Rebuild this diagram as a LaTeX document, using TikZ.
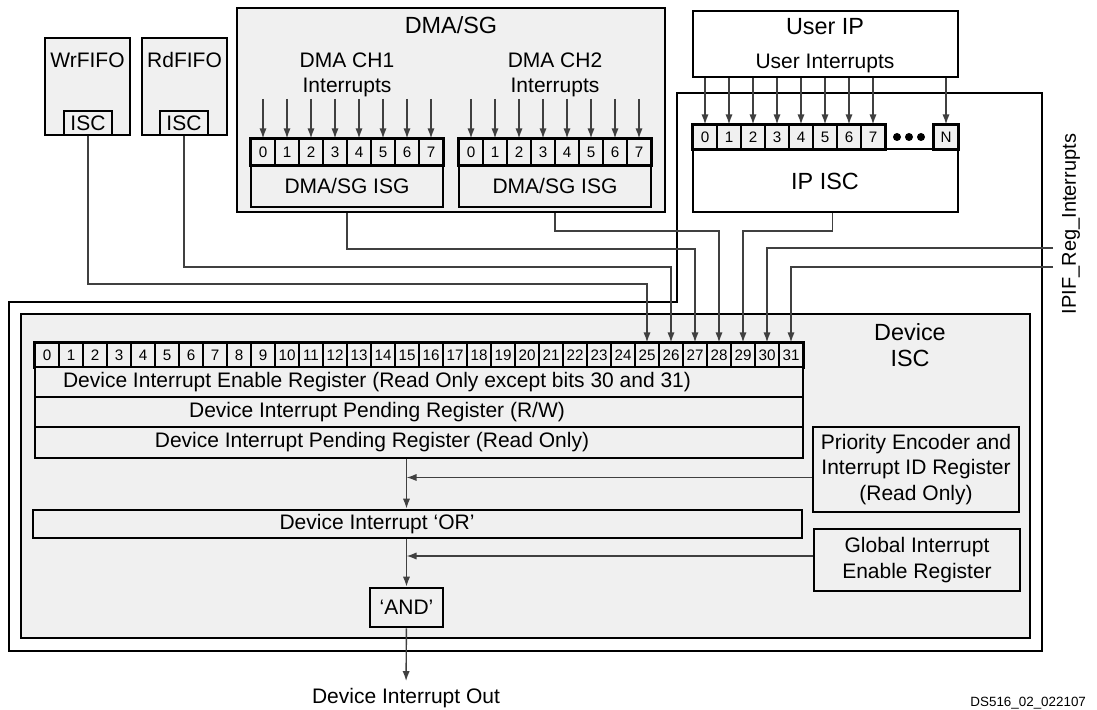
\documentclass[tikz,border=0pt]{standalone}
\usepackage{fontspec}
\setmainfont{Liberation Sans}
\usetikzlibrary{arrows.meta, fit}
\definecolor{boxgrey}{HTML}{F0F0F0}
\tikzset{
    grybox/.style={draw, line width=1.3pt, fill=boxgrey, inner sep=0pt},
    whtbox/.style={draw, line width=1.3pt, fill=white, inner sep=0pt},
    bitcell/.style={draw, line width=0.6pt, fill=boxgrey, inner sep=0pt,
        minimum width=12pt, minimum height=12pt, font=\fontsize{7.6}{9}\selectfont},
    wire/.style={draw=black!75, line width=0.7pt},
    arr/.style={wire, -{Latex[length=5pt,width=3.6pt]}},
    thk/.style={line width=1.3pt},
    title/.style={font=\fontsize{11.7}{13}\selectfont}
}
\newcommand{\drawblk}[7][grybox]{%
    \coordinate (#2-nw) at (#3,#4);
    \coordinate (#2-se) at (#5,#6);
    \node[#1, fit=(#2-nw)(#2-se), label={[align=center]center:#7}] (#2) {};
}

\begin{document}
\begin{tikzpicture}[x=0.5pt, y=-0.5pt, font=\fontsize{10.5}{12.7}\selectfont]
    \useasboundingbox (0,0) rectangle (1097,710);

    \draw[thk] (9,302) -- (677,302) -- (677,93) -- (1042,93) -- (1042,651) -- (9,651) -- cycle;

    % fifos
    \drawblk{wr}{45}{38}{130}{135}{}
    \drawblk{rd}{142}{38}{227}{135}{}
    \node (wrt) at (87.5,60) {WrFIFO};
    \node (rdt) at (184.5,60) {RdFIFO};
    \drawblk{wisc}{64}{111}{112}{135}{ISC}
    \drawblk{risc}{160}{111}{208}{135}{ISC}

    % dma/sg
    \drawblk{dma}{237}{8}{665}{212}{}
    \node[title] (dmat) at (451,25) {DMA/SG};
    \node[align=center] (ch1t) at (347,75) {DMA CH1\\Interrupts};
    \node[align=center] (ch2t) at (555,75) {DMA CH2\\Interrupts};
    \drawblk{isg1}{251}{165}{443}{207}{DMA/SG ISG}
    \drawblk{isg2}{459}{165}{651}{207}{DMA/SG ISG}
    \foreach \i in {0,...,7} {
        \node[bitcell, minimum height=13pt] (c1b\i) at ({263+24*\i},152) {\i};
        \node[bitcell, minimum height=13pt] (c2b\i) at ({471+24*\i},152) {\i};
        \draw[arr] (c1b\i |- 0,99) -- (c1b\i);
        \draw[arr] (c2b\i |- 0,99) -- (c2b\i);
    }
    \draw[thk] (c1b0.north west) rectangle (c1b7.south east);
    \draw[thk] (c2b0.north west) rectangle (c2b7.south east);

    % user ip
    \drawblk[whtbox]{uip}{693}{11}{958}{77}{}
    \node[title] (uipt) at (825,27) {User IP};
    \node (uint) at (825,63) {User Interrupts};
    \drawblk[whtbox]{ipisc}{693}{149}{958}{212}{}
    \node[title] (ipisct) at (825,181) {IP ISC};
    \foreach \i in {0,...,7} {
        \node[bitcell] (ipb\i) at ({705+24*\i},137) {\i};
        \draw[arr] (ipb\i |- uip.south) -- (ipb\i);
    }
    \node[bitcell] (ipbn) at (946,137) {N};
    \draw[arr] (ipbn |- uip.south) -- (ipbn);
    \draw[thk] (ipb0.north west) rectangle (ipb7.south east);
    \draw[thk] (ipbn.north west) rectangle (ipbn.south east);
    \foreach \x in {897,909,921}
        \fill (\x,137) circle (2pt);

    % device isc
    \drawblk{dev}{21}{314}{1030}{638}{}
    \node[title, align=center] (devt) at (910,345) {Device\\ISC};
    \foreach \i in {0,...,31}
        \node[bitcell] (db\i) at ({47+24*\i},355) {\i};
    \draw[thk] (db0.north west) rectangle (db31.south east);
    \drawblk{reg1}{35}{367}{803}{397}{}
    \drawblk{reg2}{35}{397}{803}{427}{}
    \drawblk{reg3}{35}{427}{803}{458}{}
    \node (reg1t) at (377,382) {Device Interrupt Enable Register (Read Only except bits 30 and 31)};
    \node (reg2t) at (377,412) {Device Interrupt Pending Register (R/W)};
    \node (reg3t) at (372,442.5) {Device Interrupt Pending Register (Read Only)};
    \drawblk{prio}{813}{427}{1019}{512}{Priority Encoder and\\Interrupt ID Register\\(Read Only)}
    \drawblk{glob}{814}{529}{1020}{591}{Global Interrupt\\Enable Register}
    \drawblk{orbox}{33}{510}{802}{538}{}
    \node (ort) at (377,524) {Device Interrupt `OR'};
    \drawblk{andbox}{370}{588}{443}{627}{`AND'}
    \node (dout) at (406,698) {Device Interrupt Out};

    \coordinate (prio-in) at ([yshift=-4pt]prio.west);
    \coordinate (glob-in) at ([yshift=2pt]glob.west);
    \draw[arr] (reg3.south -| andbox.north) -- (orbox.north -| andbox.north);
    \draw[arr] (prio-in) -- (prio-in -| andbox.north);
    \draw[arr] (orbox.south -| andbox.north) -- (andbox);
    \draw[arr] (glob-in) -- (glob-in -| andbox.north);
    \draw[arr] (andbox) -- (dout);

    % interrupt wires
    \coordinate (ipisc-out) at ([xshift=3.5pt]ipisc.south);
    \coordinate (ipif30) at (1053,248);
    \coordinate (ipif31) at (1053,267);
    \draw[arr] (wisc) -- (wisc |- 0,284) -| (db25);
    \draw[arr] (risc) -- (risc |- 0,267) -| (db26);
    \draw[arr] (isg1 |- dma.south) -- (isg1 |- 0,249) -| (db27);
    \draw[arr] (isg2 |- dma.south) -- (isg2 |- 0,231) -| (db28);
    \draw[arr] (ipisc-out) -- (ipisc-out |- 0,231) -| (db29);
    \draw[arr] (ipif30) -| (db30);
    \draw[arr] (ipif31) -| (db31);
    \node[rotate=90, font=\fontsize{10}{12}\selectfont] (ipift) at (1071,224) {IPIF\_Reg\_Interrupts};

    \node[anchor=east, font=\fontsize{6.7}{8}\selectfont] (dsid) at (1093,703) {DS516\_02\_022107};
\end{tikzpicture}
\end{document}
